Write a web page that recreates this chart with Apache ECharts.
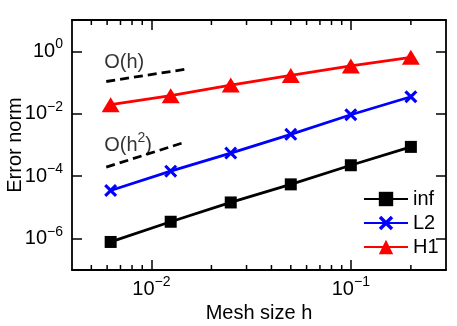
<!DOCTYPE html>
<html>
<head>
<meta charset="utf-8">
<script src="https://cdn.jsdelivr.net/npm/echarts@6/dist/echarts.min.js"></script>
<style>html,body{margin:0;padding:0;background:#fff}#c{width:457px;height:326px}</style>
</head>
<body>
<div id="c"></div>
<script>
const meshSizes = [0.00625, 0.0125, 0.025, 0.05, 0.1, 0.2];
const errInf = [7.9e-7, 3.5e-6, 1.45e-5, 5.5e-5, 2.25e-4, 8.7e-4];
const errL2 = [3.5e-5, 1.45e-4, 5.5e-4, 2.2e-3, 9.3e-3, 0.035];
const errH1 = [0.0195, 0.038, 0.083, 0.168, 0.34, 0.64];
const refOh = [[0.00594, 0.1077], [0.01466, 0.263]];
const refOh2 = [[0.00594, 1.95e-4], [0.0143, 1.16e-3]];
const labelOh = [0.0058, 0.44];
const labelOh2 = [0.0058, 1.0e-3];
const xMajorTicks = [0.01, 0.1];
const yMajorTicks = [1e-6, 1e-4, 1e-2, 1];
const xMinorTicks = [0.005, 0.006, 0.007, 0.008, 0.009, 0.02, 0.03, 0.04, 0.05, 0.06, 0.07, 0.08, 0.09, 0.2];
const xRange = [0.004, 0.3];
const yRange = [1e-7, 10];

const FONT = "'Liberation Sans', Arial, Helvetica, sans-serif";
const FS = 20;

function pow10Label(v) {
  const l = Math.log10(v);
  const e = Math.round(l);
  if (Math.abs(l - e) > 1e-6) return '';
  const es = e < 0 ? '\u2212' + (-e) : String(e);
  return '{b|10}{s|' + es + '}';
}
const richLab = {
  b: {fontSize: FS, fontFamily: FONT, color: '#000'},
  s: {fontSize: 14, fontFamily: FONT, color: '#000', padding: [0, 0, 14, 0]}
};

const chart = echarts.init(document.getElementById('c'));
const axisLineStyle = {color: '#000', width: 1.8};
function mkX(pos, show) {
  return {
    type: 'log', position: pos, min: xRange[0], max: xRange[1],
    axisLine: {show: true, onZero: false, lineStyle: axisLineStyle},
    axisTick: {show: true, inside: true, length: 10, customValues: xMajorTicks, lineStyle: {color: '#000', width: 1.5}},
    axisLabel: {show: show, customValues: xMajorTicks, formatter: pow10Label, rich: richLab, margin: 5},
    splitLine: {show: false},
    name: show ? 'Mesh size h' : '', nameLocation: 'middle', nameGap: 26,
    nameTextStyle: {fontSize: FS, fontFamily: FONT, color: '#000'}
  };
}
function mkY(pos, show) {
  return {
    type: 'log', position: pos, min: yRange[0], max: yRange[1],
    axisLine: {show: true, onZero: false, lineStyle: axisLineStyle},
    axisTick: {show: true, inside: true, length: 10, customValues: yMajorTicks, lineStyle: {color: '#000', width: 1.5}},
    axisLabel: {show: show, customValues: yMajorTicks, formatter: pow10Label, rich: richLab, margin: 9},
    splitLine: {show: false},
    name: show ? 'Error norm' : '', nameLocation: 'middle', nameGap: 47, nameMoveOverlap: false,
    nameTextStyle: {fontSize: FS, fontFamily: FONT, color: '#000'}
  };
}
const xMarker = 'path://M2,0 L6,4 L10,0 L12,2 L8,6 L12,10 L10,12 L6,8 L2,12 L0,10 L4,6 L0,2 Z';

chart.setOption({
  animation: false,
  backgroundColor: '#fff',
  grid: {left: 72, right: 11, top: 20, bottom: 56, containLabel: false, outerBoundsMode: 'none'},
  xAxis: [mkX('bottom', true), mkX('top', false)],
  yAxis: [mkY('left', true), mkY('right', false)],
  legend: {
    data: ['inf', 'L2', 'H1'], orient: 'vertical', left: 358, top: 184,
    itemWidth: 44, itemHeight: 18, itemGap: 4,
    textStyle: {fontSize: FS, fontFamily: FONT, color: '#000', padding: [0, 0, 0, 0]}
  },
  series: [
    {
      type: 'custom', silent: true, clip: false, z: 1,
      data: xMinorTicks.map(v => [v, 1]),
      renderItem: function (params, api) {
        const x = api.coord([api.value(0), 1])[0];
        const cs = params.coordSys;
        const st = {stroke: '#000', lineWidth: 1.5};
        return {type: 'group', children: [
          {type: 'line', shape: {x1: x, y1: cs.y + cs.height, x2: x, y2: cs.y + cs.height - 5}, style: st},
          {type: 'line', shape: {x1: x, y1: cs.y, x2: x, y2: cs.y + 5}, style: st}
        ]};
      }
    },
    {
      name: 'inf', type: 'line', data: meshSizes.map((h, i) => [h, errInf[i]]),
      symbol: 'rect', symbolSize: 12, color: '#000',
      lineStyle: {color: '#000', width: 2.8}, itemStyle: {color: '#000'}, z: 3
    },
    {
      name: 'L2', type: 'line', data: meshSizes.map((h, i) => [h, errL2[i]]),
      symbol: xMarker, symbolSize: 13, color: '#0000ff',
      lineStyle: {color: '#0000ff', width: 2.8}, itemStyle: {color: '#0000ff'}, z: 3
    },
    {
      name: 'H1', type: 'line', data: meshSizes.map((h, i) => [h, errH1[i]]),
      symbol: 'triangle', symbolSize: [18, 15], color: '#ff0000',
      lineStyle: {color: '#ff0000', width: 2.8}, itemStyle: {color: '#ff0000'}, z: 3
    },
    {
      type: 'line', data: refOh, symbol: 'none', silent: true,
      lineStyle: {color: '#000', width: 2.8, type: [9, 5]}
    },
    {
      type: 'line', data: refOh2, symbol: 'none', silent: true,
      lineStyle: {color: '#000', width: 2.8, type: [9, 5]}
    },
    {
      type: 'scatter', silent: true, symbolSize: 0,
      data: [{value: labelOh, label: {formatter: 'O(h)'}}, {value: labelOh2, label: {formatter: '{b|O(h}{s|2}{b|)}'}}],
      label: {show: true, position: 'right', distance: 0, fontSize: FS, fontFamily: FONT, color: '#000', rich: richLab}
    }
  ]
});
</script>
</body>
</html>
